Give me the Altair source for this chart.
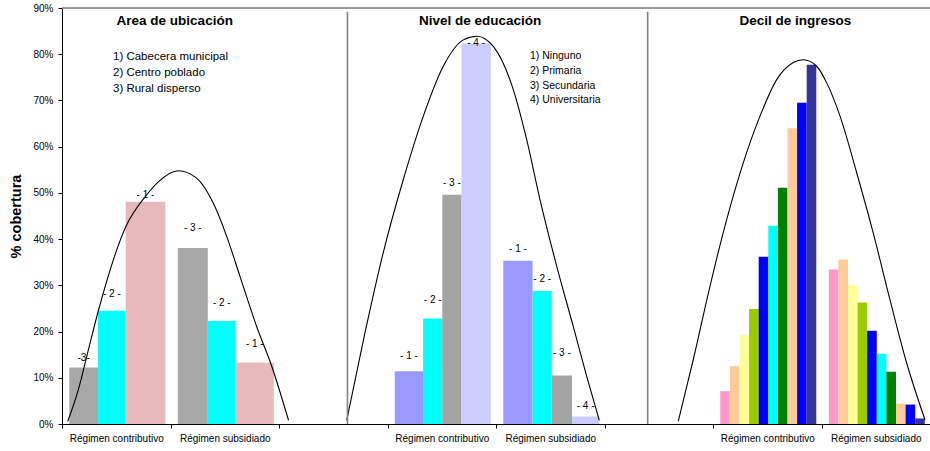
import altair as alt
import pandas as pd

# ------------------------------------------------------------------ data
regimes = ["Régimen contributivo", "Régimen subsidiado"]
panel_titles = ["Area de ubicación", "Nivel de educación", "Decil de ingresos"]

area_notes = ["1) Cabecera municipal", "2) Centro  poblado", "3) Rural disperso"]
area_codes = [3, 2, 1]                      # order of the bars inside each regime
area_contrib = [12.2, 24.5, 48.1]
area_subs = [38.1, 22.3, 13.3]
area_tags_contrib = ["-3-", "- 2 -", "- 1 -"]
area_tags_subs = ["- 3 -", "- 2 -", "- 1 -"]
area_colors = {1: "#E6BABA", 2: "#00FFFF", 3: "#A8A8A8"}

edu_notes = ["1) Ninguno", "2) Primaria", "3) Secundaria", "4) Universitaria"]
edu_codes = [1, 2, 3, 4]
edu_contrib = [11.4, 22.8, 49.6, 82.3]
edu_subs = [35.3, 28.8, 10.5, 1.6]
edu_tags = ["- 1 -", "- 2 -", "- 3 -", "- 4 -"]
edu_colors = {1: "#9999FF", 2: "#00FFFF", 3: "#A4A4A4", 4: "#CCCCFF"}

dec_codes = list(range(1, 11))
dec_contrib = [7.1, 12.5, 19.2, 24.9, 36.2, 42.9, 51.1, 64.0, 69.5, 77.7]
dec_subs = [33.4, 35.6, 30.0, 26.3, 20.2, 15.2, 11.3, 4.4, 4.2, 1.2]
dec_colors = {1: "#FF99CC", 2: "#FFCC99", 3: "#FFFF99", 4: "#99CC00", 5: "#0000FF",
              6: "#00FFFF", 7: "#008000", 8: "#FFCC99", 9: "#0000FF", 10: "#333399"}

# hand-drawn envelope curves (x in category slots, y in %)
curve1_x = [0.053, 0.150, 0.228, 0.335, 0.590, 0.781, 0.888, 1.072, 1.241, 1.394,
            1.518, 1.641, 1.794, 1.933, 2.088]
curve1_y = [0.6, 7.4, 14.6, 24.5, 42.8, 49.6, 52.4, 54.8, 53.2, 47.8,
            40.6, 31.9, 21.1, 12.5, 0.8]
curve2_x = [2.624, 2.793, 2.961, 3.146, 3.330, 3.514, 3.699, 3.822, 3.975, 4.160,
            4.283, 4.406, 4.560, 4.712, 4.836, 4.952]
curve2_y = [0.8, 19.8, 37.1, 52.9, 66.6, 77.4, 83.1, 83.9, 81.7, 72.3,
            61.5, 48.5, 34.1, 21.1, 10.3, 0.8]
curve3_x = [5.680, 5.818, 5.972, 6.126, 6.279, 6.433, 6.587, 6.740, 6.832, 6.956,
            7.048, 7.171, 7.325, 7.477, 7.631, 7.785, 7.954]
curve3_y = [0.6, 13.9, 29.8, 44.2, 56.5, 66.6, 74.5, 78.2, 78.8, 77.4,
            73.8, 66.6, 54.3, 41.3, 26.9, 13.2, 0.9]

# ------------------------------------------------------------------ layout
SLOTS = 8            # category slots along x (2 per panel + 1 blank gap between panels)
BAR_START = 0.067    # inset of the first bar inside a slot
BAR_SPAN = 0.885     # share of a slot covered by bars
SEPARATORS = [2.631, 5.398]
SEP_TOP = 89.2
W, H = 868, 416
FONT = "Liberation Sans"
# relative bar widths as drawn in the original (panel -> regime -> bars)
bar_widths = [[[29, 28, 40], [30, 28, 38]],
              [[28, 19, 19, 29], [29, 19, 20, 27]],
              [[1] * 10, [1] * 10]]
# vertical gap (px) between each bar top and its tag, as placed in the original
tag_gap = [[[10, 17, 7], [20, 18, 19]],
           [[15, 19, 12, 1], [12, 12, 22, 11]],
           [[0] * 10, [0] * 10]]

panels = [
    (area_codes, [area_contrib, area_subs], [area_tags_contrib, area_tags_subs], area_colors),
    (edu_codes, [edu_contrib, edu_subs], [edu_tags, edu_tags], edu_colors),
    (dec_codes, [dec_contrib, dec_subs], [[""] * 10, [""] * 10], dec_colors),
]

rows = []
color_domain, color_range = [], []
for p, (codes, series, tags, colors) in enumerate(panels):
    for c in sorted(colors):
        color_domain.append(f"{p}-{c}")
        color_range.append(colors[c])
    for r, vals in enumerate(series):
        wts = bar_widths[p][r]
        tot = float(sum(wts))
        acc = 0.0
        for i, v in enumerate(vals):
            f0 = acc / tot
            acc += wts[i]
            f1 = acc / tot
            rows.append({"slot": p * 3 + r, "f0": f0, "f1": f1, "value": v,
                         "key": f"{p}-{codes[i]}", "tag": tags[r][i],
                         "gap": tag_gap[p][r][i]})
bars_df = pd.DataFrame(rows)

curves_df = pd.concat([
    pd.DataFrame({"x": curve1_x, "y": curve1_y, "c": "a"}),
    pd.DataFrame({"x": curve2_x, "y": curve2_y, "c": "b"}),
    pd.DataFrame({"x": curve3_x, "y": curve3_y, "c": "c"}),
])
curves_df["o"] = range(len(curves_df))

xscale = alt.Scale(domain=[0, SLOTS], nice=False, zero=False)
yscale = alt.Scale(domain=[0, 90], nice=False)

x_axis = alt.Axis(
    values=list(range(0, SLOTS + 1)),
    labelExpr="[" + ",".join(f"'{t}'" for t in regimes) + ",''][datum.value % 3]",
    labelOffset=W / SLOTS / 2, labelFlush=False, labelOverlap=False,
    labelFontSize=10, labelFont=FONT, labelColor="black", labelPadding=5,
    tickSize=4, tickColor="black", domainColor="black", domainWidth=1.2,
    grid=False, title=None,
)
y_axis = alt.Axis(
    values=list(range(0, 91, 10)), labelExpr="datum.value + '%'",
    labelFontSize=10, labelFont=FONT, labelColor="black", labelPadding=5,
    tickSize=4, tickColor="black", domainColor="black", grid=False,
    title="% cobertura", titleFont=FONT, titleFontSize=14.5, titleFontWeight="bold",
    titleColor="black", titleAngle=270, titleAlign="center", titleBaseline="middle",
    titleX=-46, titleY=H / 2,
)


def X(field):
    return alt.X(field, scale=xscale, axis=x_axis)


def Y(field):
    return alt.Y(field, scale=yscale, axis=y_axis)


bars = alt.Chart(bars_df).transform_calculate(
    x=f"datum.slot + {BAR_START} + datum.f0 * {BAR_SPAN}",
    x2=f"datum.slot + {BAR_START} + datum.f1 * {BAR_SPAN}",
).mark_bar(stroke=None).encode(
    x=X("x:Q"),
    x2="x2:Q",
    y=Y("value:Q"),
    y2=alt.datum(0),
    color=alt.Color("key:N", scale=alt.Scale(domain=color_domain, range=color_range), legend=None),
)

tags = alt.Chart(bars_df).transform_filter("datum.tag != ''").transform_calculate(
    xc=f"datum.slot + {BAR_START} + (datum.f0 + datum.f1) / 2 * {BAR_SPAN}",
    yc=f"datum.value + datum.gap * 90 / {H}",
).mark_text(font=FONT, fontSize=10, color="black", baseline="middle").encode(
    x=X("xc:Q"),
    y=Y("yc:Q"),
    text="tag:N",
)

curves = alt.Chart(curves_df).mark_line(color="black", strokeWidth=1.1, interpolate="monotone").encode(
    x=X("x:Q"),
    y=Y("y:Q"),
    detail="c:N",
    order="o:Q",
)

seps = alt.Chart(pd.DataFrame({"x": SEPARATORS, "y": [0, 0], "y2": [SEP_TOP, SEP_TOP]})).mark_rule(
    color="#808080", strokeWidth=1.6).encode(
    x=X("x:Q"),
    y=Y("y:Q"),
    y2="y2:Q",
)

top_line = alt.Chart(pd.DataFrame({"y": [90]})).mark_rule(color="#808080", strokeWidth=1.5).encode(
    y=Y("y:Q"),
)

titles_df = pd.DataFrame({"x": [1.039, 3.853, 6.760], "y": [87.26] * 3, "t": panel_titles})
titles = alt.Chart(titles_df).mark_text(font=FONT, fontSize=13.5, fontWeight="bold",
                                        color="black", baseline="middle").encode(
    x=X("x:Q"),
    y=Y("y:Q"),
    text="t:N",
)

notes1 = alt.Chart(pd.DataFrame({"x": [0.47] * 3, "y": [79.5, 76.0, 72.5], "t": area_notes})).mark_text(
    font=FONT, fontSize=11.5, color="black", align="left", baseline="middle").encode(
    x=X("x:Q"),
    y=Y("y:Q"),
    text="t:N",
)
notes2 = alt.Chart(pd.DataFrame({"x": [4.313] * 4, "y": [79.7, 76.4, 73.2, 70.2], "t": edu_notes})).mark_text(
    font=FONT, fontSize=10.5, color="black", align="left", baseline="middle").encode(
    x=X("x:Q"),
    y=Y("y:Q"),
    text="t:N",
)

chart = alt.layer(bars, curves, seps, top_line, tags, titles, notes1, notes2).properties(
    width=W, height=H,
    padding={"left": 62, "top": 8, "right": 0, "bottom": 27},
    autosize=alt.AutoSizeParams(type="none"),
).configure_view(stroke=None).configure(background="white")

chart.save("out.html", embed_options={"renderer": "svg", "actions": False})
